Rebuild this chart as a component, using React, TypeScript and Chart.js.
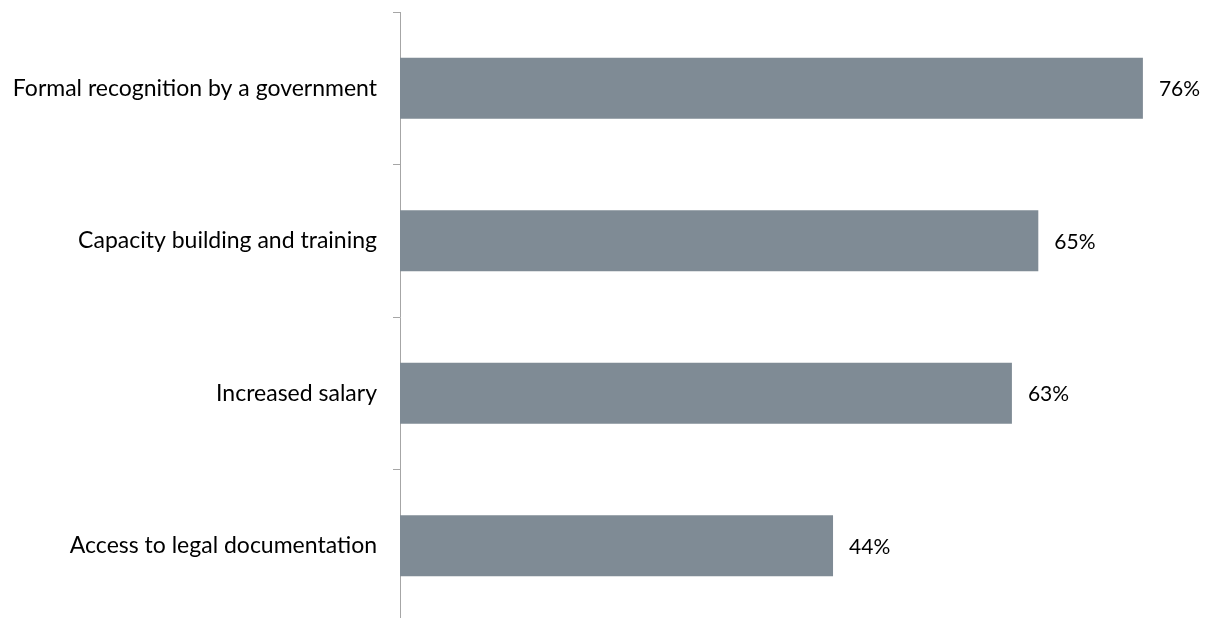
import React, { useEffect, useRef } from "react";
import { Chart, registerables } from "chart.js";

Chart.register(...registerables);

const categories = [
  "Formal recognition by a government",
  "Capacity building and training",
  "Increased salary",
  "Access to legal documentation",
];
const values = [76.0, 65.3, 62.6, 44.3];
const valueLabels = ["76%", "65%", "63%", "44%"];

const FONT = "Lato";
const BAR_COLOR = "#7f8b95";
const AXIS_COLOR = "#a6a6a6";

export default function App() {
  const ref = useRef<HTMLCanvasElement | null>(null);

  useEffect(() => {
    const canvas = ref.current;
    if (!canvas) return;
    const labelPlugin = {
      id: "valueLabels",
      afterDatasetsDraw(chart: any) {
        const ctx = chart.ctx;
        const meta = chart.getDatasetMeta(0);
        ctx.save();
        ctx.font = `21px ${FONT}`;
        ctx.fillStyle = "#000";
        ctx.textAlign = "left";
        ctx.textBaseline = "middle";
        meta.data.forEach((bar: any, i: number) => {
          ctx.fillText(valueLabels[i], bar.x + 16, bar.y + 1);
        });
        ctx.restore();
      },
    };
    const chart = new Chart(canvas, {
      type: "bar",
      data: {
        labels: categories,
        datasets: [
          {
            data: values,
            backgroundColor: BAR_COLOR,
            borderWidth: 0,
            barPercentage: 0.4,
            categoryPercentage: 1,
          },
        ],
      },
      options: {
        indexAxis: "y",
        responsive: false,
        animation: false,
        layout: { padding: { top: 12, right: 26, bottom: 0, left: 0 } },
        plugins: {
          legend: { display: false },
          tooltip: { enabled: false },
        },
        scales: {
          x: {
            display: false,
            min: 0,
            max: 80,
          },
          y: {
            offset: true,
            afterFit(scale: any) {
              scale.width = 400;
              scale.paddingTop = 0;
              scale.paddingBottom = 0;
            },
            border: { display: true, color: AXIS_COLOR, width: 1 },
            grid: {
              offset: true,
              drawOnChartArea: false,
              drawTicks: true,
              tickLength: 7,
              color: AXIS_COLOR,
              lineWidth: 1,
            },
            ticks: {
              padding: 16,
              color: "#000",
              font: { family: FONT, size: 23 },
            },
          },
        },
      },
      plugins: [labelPlugin],
    });
    return () => chart.destroy();
  }, []);

  return (
    <div
      style={{
        position: "fixed",
        left: 0,
        top: 0,
        width: 1208,
        height: 618,
        overflow: "hidden",
        background: "#fff",
      }}
    >
      <canvas ref={ref} width={1208} height={622} style={{ display: "block" }} />
    </div>
  );
}
